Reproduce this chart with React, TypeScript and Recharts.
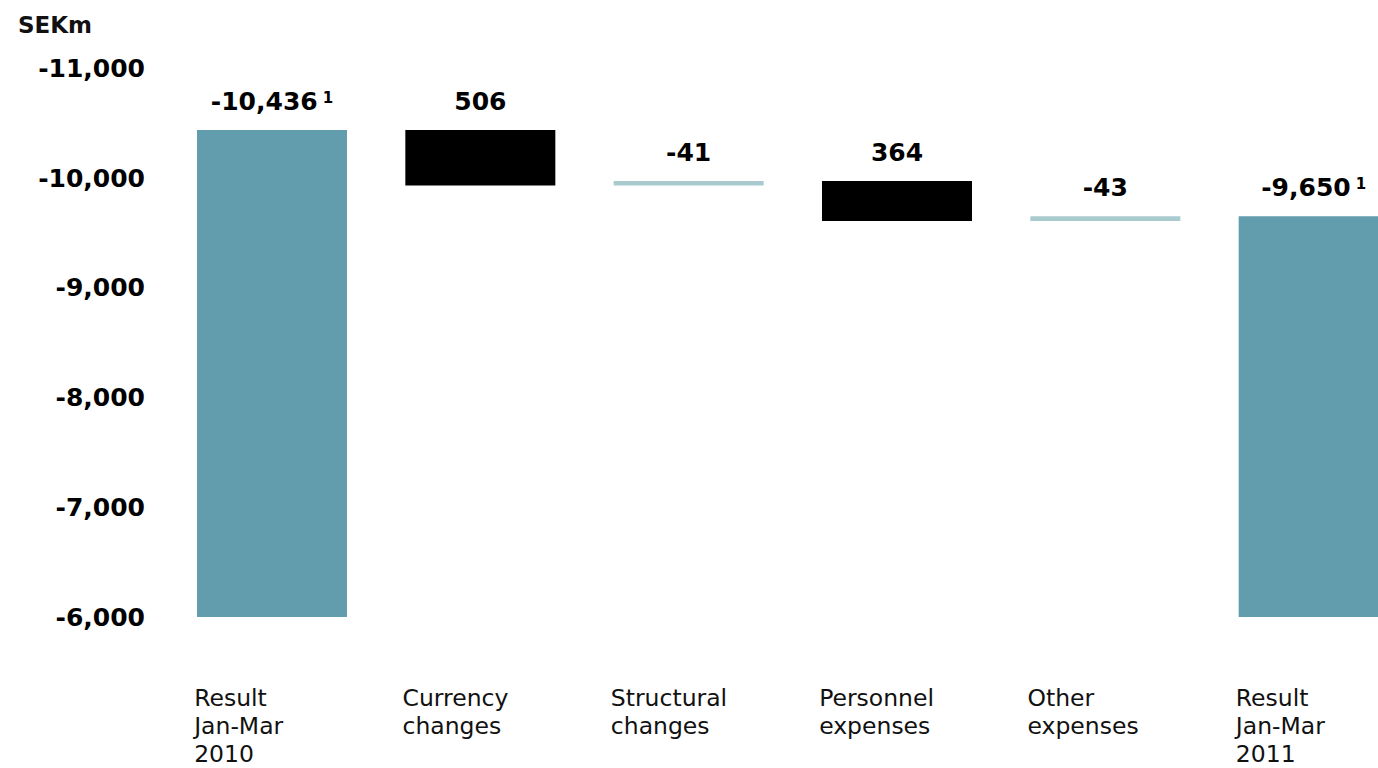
import { BarChart, Bar, XAxis, YAxis, Cell, LabelList } from 'recharts';

const categories = [
  ['Result', 'Jan-Mar', '2010'],
  ['Currency', 'changes'],
  ['Structural', 'changes'],
  ['Personnel', 'expenses'],
  ['Other', 'expenses'],
  ['Result', 'Jan-Mar', '2011'],
];
const values = [-10436, 506, -41, 364, -43, -9650];
const kinds = ['total', 'delta', 'delta', 'delta', 'delta', 'total'];
const valueLabels = ['-10,436', '506', '-41', '364', '-43', '-9,650'];
const footnotes = ['1', '', '', '', '', '1'];
const yTicks = [-11000, -10000, -9000, -8000, -7000, -6000];
const baseline = -6000;

const TEAL = '#629dad';
const LIGHT = '#a9cbcf';
const FONT = '"DejaVu Sans", Verdana, sans-serif';

function buildRows() {
  let running = 0;
  return values.map((v, i) => {
    let range: [number, number];
    if (kinds[i] === 'total') {
      range = [baseline, v];
      running = v;
    } else {
      range = [running, running + v];
      running += v;
    }
    return { name: categories[i].join(' '), range, index: i };
  });
}

const rows = buildRows();

function colorFor(i: number) {
  if (kinds[i] === 'total') return TEAL;
  return values[i] > 0 ? '#000000' : LIGHT;
}

function CategoryTick(props: any) {
  const { x, y, index } = props;
  const lines = categories[index] ?? [];
  return (
    <text x={x - 78} y={y} textAnchor="start" fill="#111" fontFamily={FONT} fontSize={23.5}>
      {lines.map((l, k) => (
        <tspan key={k} x={x - 78} y={y + 89 + k * 28}>
          {l}
        </tspan>
      ))}
    </text>
  );
}

function ValueLabel(props: any) {
  const { x, y, width, height, index } = props;
  const top = Math.min(y, y + height);
  const cx = x + width / 2;
  return (
    <text
      x={cx}
      y={top - 20}
      textAnchor="middle"
      fill="#000"
      fontFamily={FONT}
      fontWeight="bold"
      fontSize={25}
    >
      {valueLabels[index]}
      {footnotes[index] ? (
        <tspan dx={5} dy={-7} fontSize={15}>
          {footnotes[index]}
        </tspan>
      ) : null}
    </text>
  );
}

export default function App() {
  return (
    <div
      style={{
        position: 'fixed',
        left: 0,
        top: 0,
        width: 1378,
        height: 768,
        overflow: 'hidden',
        background: '#fff',
      }}
    >
      <div
        style={{
          position: 'absolute',
          left: 18,
          top: 14,
          fontFamily: FONT,
          fontWeight: 'bold',
          fontSize: 23,
          lineHeight: 1,
          color: '#111',
        }}
      >
        SEKm
      </div>
      <BarChart
        width={1420}
        height={768}
        data={rows}
        margin={{ top: 68, right: 2, bottom: 0, left: 8 }}
        barCategoryGap={29}
      >
        <XAxis
          dataKey="name"
          axisLine={false}
          tickLine={false}
          tickSize={0}
          tickMargin={0}
          height={151}
          interval={0}
          tick={<CategoryTick />}
        />
        <YAxis
          type="number"
          domain={[-11000, -6000]}
          ticks={yTicks}
          reversed
          allowDataOverflow
          axisLine={false}
          tickLine={false}
          tickSize={0}
          tickMargin={23}
          width={160}
          tickFormatter={(v: number) => v.toLocaleString('en-US')}
          tick={{ fill: '#000', fontSize: 25, fontWeight: 'bold', fontFamily: FONT }}
        />
        <Bar dataKey="range" barSize={150} isAnimationActive={false}>
          {rows.map((r) => (
            <Cell key={r.index} fill={colorFor(r.index)} />
          ))}
          <LabelList dataKey="range" content={<ValueLabel />} />
        </Bar>
      </BarChart>
    </div>
  );
}
